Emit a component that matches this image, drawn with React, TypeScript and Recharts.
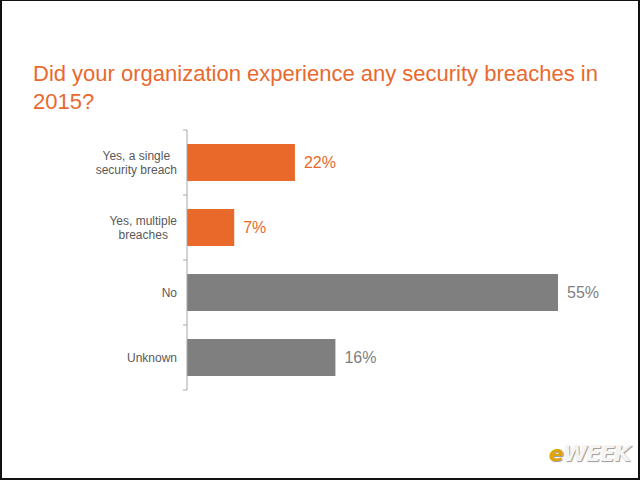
import React from "react";
import { BarChart, Bar, XAxis, YAxis, Cell, LabelList } from "recharts";

const titleLines = ["Did your organization experience any security breaches in", "2015?"];
const categories = ["Yes, a single\nsecurity breach", "Yes, multiple\nbreaches", "No", "Unknown"];
// bar lengths as drawn in the reference
const barValues = [16, 7, 55, 22];
// value labels as printed in the reference
const valueLabels = ["22%", "7%", "55%", "16%"];
const barColors = ["#E8692A", "#E8692A", "#7F7F7F", "#7F7F7F"];
const labelColors = ["#E8692A", "#E8692A", "#7F7F7F", "#7F7F7F"];

const data = categories.map((c, i) => ({ name: c, value: barValues[i], label: valueLabels[i], color: barColors[i], labelColor: labelColors[i] }));

const W = 640;
const H = 480;
const MARGIN = { top: 130, right: 82, bottom: 90, left: 0 };
const YAXIS_W = 187;
const PLOT_H = H - MARGIN.top - MARGIN.bottom;
const HALF_BAND = PLOT_H / categories.length / 2;
const AXIS_X = MARGIN.left + YAXIS_W;
const FONT = "'Liberation Sans', Arial, sans-serif";

const CategoryTick = (props: any) => {
  const { y, payload, index } = props;
  const lines = String(payload.value);
  const isLast = index === categories.length - 1;
  return (
    <g>
      <line x1={AXIS_X - 4} x2={AXIS_X} y1={y - HALF_BAND} y2={y - HALF_BAND} stroke="#A6A6A6" strokeWidth={1} />
      {isLast && (
        <line x1={AXIS_X - 4} x2={AXIS_X} y1={y + HALF_BAND} y2={y + HALF_BAND} stroke="#A6A6A6" strokeWidth={1} />
      )}
      <foreignObject x={AXIS_X - 147} y={y - 25} width={137} height={50}>
        <div
          style={{
            width: "100%",
            height: "100%",
            display: "flex",
            alignItems: "center",
            justifyContent: "flex-end",
          }}
        >
          <div
            style={{
              textAlign: "center",
              whiteSpace: "pre-line",
              fontFamily: FONT,
              fontSize: 12,
              lineHeight: "14px",
              color: "#595959",
            }}
          >
            {lines}
          </div>
        </div>
      </foreignObject>
    </g>
  );
};

const ValueLabel = (props: any) => {
  const { x, y, width, height, index } = props;
  const d = data[index];
  return (
    <text
      x={x + width + 9}
      y={y + height / 2}
      dominantBaseline="central"
      fontFamily={FONT}
      fontSize={16}
      fill={d.labelColor}
    >
      {d.label}
    </text>
  );
};

export default function App() {
  return (
    <div
      style={{
        position: "fixed",
        left: 0,
        top: 0,
        width: W,
        height: H,
        boxSizing: "border-box",
        borderLeft: "2px solid #111",
        borderRight: "2px solid #111",
        borderTop: "1px solid #111",
        borderBottom: "2px solid #111",
        background: "#fff",
        overflow: "hidden",
      }}
    >
      <div
        style={{
          position: "absolute",
          left: 31,
          top: 59,
          fontFamily: FONT,
          fontSize: 22,
          lineHeight: "28px",
          color: "#E8692E",
          whiteSpace: "nowrap",
        }}
      >
        {titleLines.map((t, i) => (
          <div key={i}>{t}</div>
        ))}
      </div>
      <div style={{ position: "absolute", left: -2, top: -1 }}>
        <BarChart
          width={W}
          height={H}
          data={data}
          layout="vertical"
          margin={MARGIN}
          barCategoryGap="21.5%"
        >
          <XAxis type="number" domain={[0, 55]} hide />
          <YAxis
            type="category"
            dataKey="name"
            width={YAXIS_W}
            axisLine={{ stroke: "#A6A6A6" }}
            tickLine={false}
            tick={<CategoryTick />}
            interval={0}
          />
          <Bar dataKey="value" isAnimationActive={false}>
            {data.map((d, i) => (
              <Cell key={i} fill={d.color} />
            ))}
            <LabelList dataKey="label" content={<ValueLabel />} />
          </Bar>
        </BarChart>
      </div>
      <div
        style={{
          position: "absolute",
          right: 8,
          bottom: 12,
          fontFamily: "'DejaVu Sans', sans-serif",
          fontWeight: "bold",
          fontStyle: "italic",
          fontSize: 22,
          letterSpacing: -1,
          color: "#f4f4f4",
          textShadow: "1px 1px 1px #999",
        }}
      >
        <span style={{ color: "#E0A400" }}>e</span>WEEK
      </div>
    </div>
  );
}
